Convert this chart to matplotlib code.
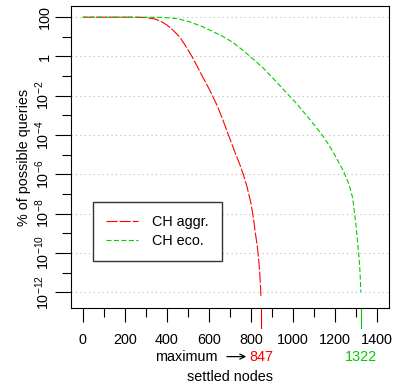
import matplotlib
matplotlib.use("Agg")
import matplotlib.pyplot as plt
import matplotlib.transforms as mtransforms
from matplotlib.ticker import FixedLocator, FixedFormatter, NullFormatter
import numpy as np

plt.rcParams['font.family'] = ['Liberation Sans', 'DejaVu Sans']
plt.rcParams['mathtext.fontset'] = 'custom'
plt.rcParams['mathtext.rm'] = 'Liberation Sans'
plt.rcParams['mathtext.it'] = 'Liberation Sans:italic'
plt.rcParams['font.size'] = 10.4

# settled nodes vs. % of possible queries
aggr_nodes = [0, 100, 200, 250, 300, 340, 370, 400, 430, 462, 490, 518,
              540, 565, 585, 605, 637, 665, 692, 720, 745, 763, 780, 800,
              812, 822, 830, 836, 841, 845, 847]
aggr_pct = [100, 100, 100, 99.5, 95.5, 83, 63, 40, 21.4, 9.5, 3.3, 1.05,
            0.38, 0.115, 0.046, 0.018, 3.5e-3, 6.3e-4, 1.05e-4, 1.66e-5,
            3.5e-6, 1.0e-6, 2.5e-7, 3.2e-8, 5.0e-9, 7.9e-10, 2.0e-10,
            5.0e-11, 1.0e-11, 2.0e-12, 5.8e-13]

eco_nodes = [0, 200, 300, 381, 450, 510, 573, 620, 668, 716, 760, 811,
             859, 900, 950, 986, 1017, 1060, 1100, 1144, 1190, 1240, 1265,
             1283, 1290, 1298, 1306, 1313, 1318, 1322]
eco_pct = [100, 100, 100, 98, 85, 57.5, 31.6, 18.2, 10.2, 5.0, 2.1, 0.72,
           0.25, 0.087, 0.023, 8.9e-3, 4.0e-3, 1.1e-3, 3.3e-4, 8.3e-5,
           1.4e-5, 1.4e-6, 3.2e-7, 6.3e-8, 1.6e-8, 3.2e-9, 4.0e-10,
           6.3e-11, 1.0e-11, 1.0e-12]

aggr_max = 847
eco_max = 1322

x_major = [0, 200, 400, 600, 800, 1000, 1200, 1400]
x_minor = [100, 300, 500, 700, 900, 1100, 1300]
y_major = [1e2, 1e0, 1e-2, 1e-4, 1e-6, 1e-8, 1e-10, 1e-12]
y_major_labels = ['100', '1', r'$10^{-2}$', r'$10^{-4}$', r'$10^{-6}$',
                  r'$10^{-8}$', r'$10^{-10}$', r'$10^{-12}$']
y_minor = [1e1, 1e-1, 1e-3, 1e-5, 1e-7, 1e-9, 1e-11]

RED = '#FF0000'
GREEN = '#00CD00'

fig = plt.figure(figsize=(3.97, 3.88), dpi=100)
ax = fig.add_axes([0.1788, 0.2062, 0.8012, 0.7783])

ax.plot(aggr_nodes, aggr_pct, color=RED, lw=0.8, dashes=(10, 1.8),
        label='CH aggr.')
ax.plot(eco_nodes, eco_pct, color=GREEN, lw=0.8, dashes=(4.5, 2.2),
        label='CH eco.')

ax.set_yscale('log')
# R-style 4% padding
ly = np.log10([min(aggr_pct + eco_pct), max(aggr_pct + eco_pct)])
pad = 0.04 * (ly[1] - ly[0])
ax.set_ylim(10 ** (ly[0] - pad), 10 ** (ly[1] + pad))
xpad = 0.04 * (x_major[-1] - x_major[0])
ax.set_xlim(x_major[0] - xpad, x_major[-1] + xpad)

ax.yaxis.set_major_locator(FixedLocator(y_major))
ax.yaxis.set_major_formatter(FixedFormatter(y_major_labels))
ax.yaxis.set_minor_locator(FixedLocator(y_minor))
ax.yaxis.set_minor_formatter(NullFormatter())
ax.xaxis.set_major_locator(FixedLocator(x_major))
ax.xaxis.set_minor_locator(FixedLocator(x_minor))

ax.tick_params(axis='y', which='major', length=11.5, width=0.8,
               labelrotation=90, pad=2)
ax.tick_params(axis='y', which='minor', length=6.5, width=0.8)
ax.tick_params(axis='x', which='major', length=10, width=0.8, pad=8)
ax.tick_params(axis='x', which='minor', length=6.5, width=0.8)
for lab in ax.get_yticklabels():
    lab.set_va('center')

ax.grid(axis='y', which='major', color='#BBBBBB', lw=0.8,
        linestyle=(0, (1, 3)))
for sp in ax.spines.values():
    sp.set_linewidth(0.8)

ax.set_ylabel('% of possible queries', labelpad=2)

# coloured ticks and labels for the maxima
trans = mtransforms.blended_transform_factory(ax.transData, ax.transAxes)
for xv, col in [(aggr_max, RED), (eco_max, GREEN)]:
    ax.plot([xv, xv], [0, -0.066], transform=trans, color=col, lw=0.8,
            clip_on=False)
    ax.text(xv, -0.163, str(xv), transform=trans, color=col,
            ha='center', va='center')
ax.text(aggr_max - 204, -0.163, 'maximum', transform=trans,
        ha='right', va='center')
ax.annotate('', xy=(aggr_max - 70, -0.161), xytext=(aggr_max - 162, -0.161),
            xycoords=trans, textcoords=trans,
            arrowprops=dict(arrowstyle='->', color='black', lw=0.9,
                            shrinkA=0, shrinkB=0, mutation_scale=9))
ax.text(0.5, -0.228, 'settled nodes', transform=ax.transAxes,
        ha='center', va='center')

ax.legend(loc='lower left', bbox_to_anchor=(0.069, 0.157, 0.406, 0.191),
          mode='expand', borderaxespad=0, fancybox=False,
          edgecolor='#333333', framealpha=1, handlelength=2.2,
          handletextpad=1.0, labelspacing=0.3, borderpad=0.9)

fig.savefig('out.png', dpi=100)
